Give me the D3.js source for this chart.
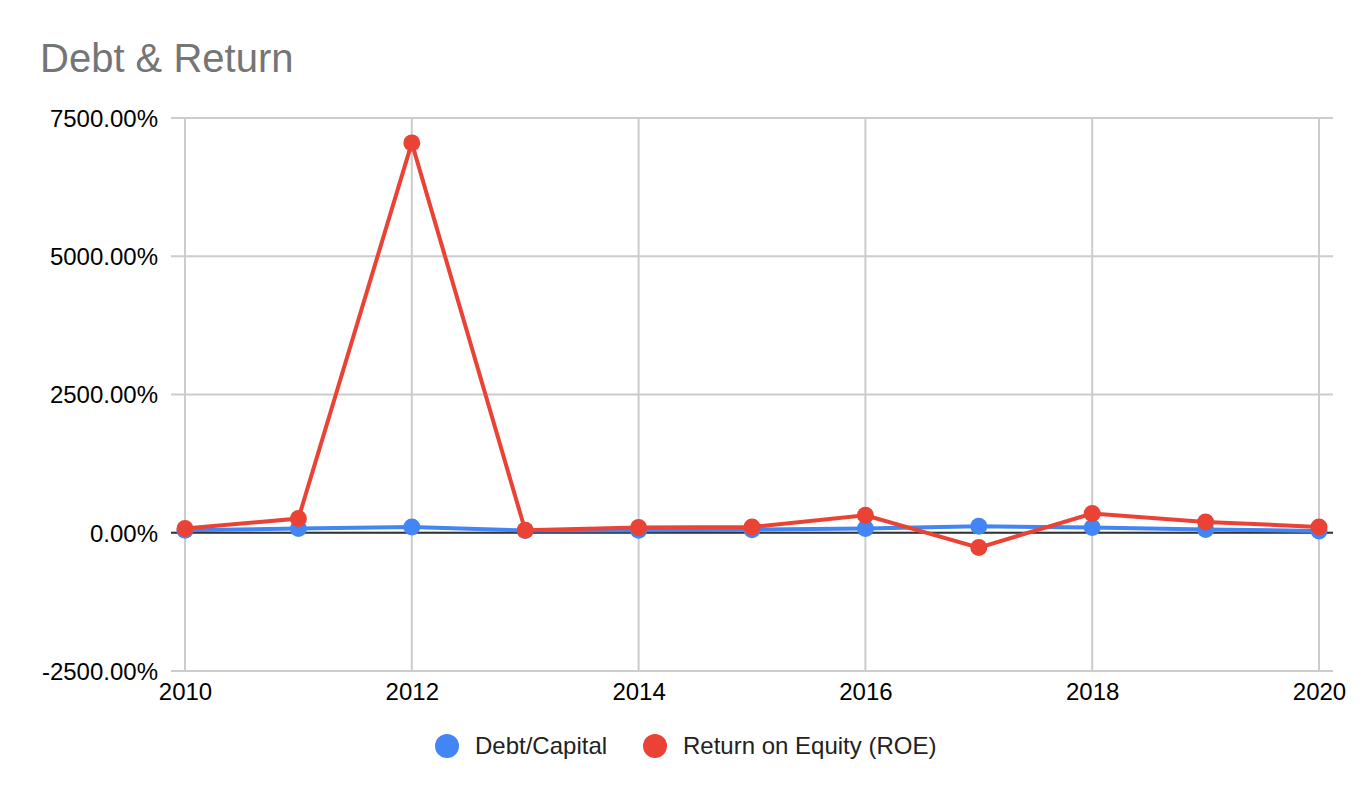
<!DOCTYPE html>
<html lang="en">
<head>
<meta charset="utf-8">
<title>Debt & Return</title>
<script src="https://cdn.jsdelivr.net/npm/d3@7"></script>
<style>
    body { margin: 0; background: #fff; }
    svg { font-family: "Liberation Sans", Arial, sans-serif; }
    .grid line { stroke: #cccccc; stroke-width: 2; }
    .axis text { font-size: 24px; fill: #000; font-family: "Liberation Sans", Arial, sans-serif; }
    .line { fill: none; stroke-width: 4; }
</style>
</head>
<body>
<div id="chart"></div>
<script>

// data (percent)
var years = [2010, 2011, 2012, 2013, 2014, 2015, 2016, 2017, 2018, 2019, 2020];
var debtCapital = [45, 76, 105, 40, 45, 55, 76, 118, 94, 58, 33];
var roe = [76, 257, 7050, 45, 94, 105, 317, -268, 347, 196, 105];
var yTicks = [-2500, 0, 2500, 5000, 7500];
var xTicks = [2010, 2012, 2014, 2016, 2018, 2020];
var seriesNames = ["Debt/Capital", "Return on Equity (ROE)"];
var seriesColors = ["#4285f4", "#ea4335"];

var width = 1372, height = 798;
var plotLeft = 185, plotRight = 1319, plotTop = 118, plotBottom = 671;

var svg = d3.select("#chart").append("svg")
    .attr("width", width)
    .attr("height", height);

var x = d3.scaleLinear().domain([2010, 2020]).range([plotLeft, plotRight]);
var y = d3.scaleLinear().domain([-2500, 7500]).range([plotBottom, plotTop]);

// title
svg.append("text")
    .attr("x", 40)
    .attr("y", 72)
    .style("font-size", "40px")
    .style("fill", "#757575")
    .text("Debt & Return");

// horizontal grid
svg.append("g").attr("class", "grid")
    .selectAll("line")
    .data(yTicks)
    .enter().append("line")
    .attr("x1", plotLeft - 14)
    .attr("x2", plotRight + 14)
    .attr("y1", function(d) { return y(d); })
    .attr("y2", function(d) { return y(d); });

// vertical grid
svg.append("g").attr("class", "grid")
    .selectAll("line")
    .data(xTicks)
    .enter().append("line")
    .attr("x1", function(d) { return x(d); })
    .attr("x2", function(d) { return x(d); })
    .attr("y1", plotTop)
    .attr("y2", plotBottom);

// zero line on top
svg.append("line")
    .attr("x1", plotLeft - 14).attr("x2", plotRight + 14)
    .attr("y1", y(0)).attr("y2", y(0))
    .style("stroke", "#333").style("stroke-width", 2);

// y axis labels (plain hyphen for negatives, like the original)
var yAxis = d3.axisLeft(y)
    .tickValues(yTicks)
    .tickSize(0)
    .tickPadding(0)
    .tickFormat(function(d) { return d.toFixed(2) + "%"; });

svg.append("g")
    .attr("class", "axis")
    .attr("transform", "translate(158,0)")
    .call(yAxis)
    .call(function(g) { g.select(".domain").remove(); })
    .selectAll("text").attr("dy", "0.35em");

// x axis labels
var xAxis = d3.axisBottom(x)
    .tickValues(xTicks)
    .tickSize(0)
    .tickPadding(0)
    .tickFormat(d3.format("d"));

svg.append("g")
    .attr("class", "axis")
    .attr("transform", "translate(0,683)")
    .call(xAxis)
    .call(function(g) { g.select(".domain").remove(); })
    .selectAll("text").attr("dy", "0.71em");

var series = [debtCapital, roe];

var line = d3.line()
    .x(function(d, i) { return x(years[i]); })
    .y(function(d) { return y(d); });

series.forEach(function(vals, s) {
    svg.append("path")
        .datum(vals)
        .attr("class", "line")
        .attr("stroke", seriesColors[s])
        .attr("d", line);

    svg.append("g").selectAll("circle")
        .data(vals)
        .enter().append("circle")
        .attr("cx", function(d, i) { return x(years[i]); })
        .attr("cy", function(d) { return y(d); })
        .attr("r", 8.5)
        .attr("fill", seriesColors[s]);
});

// legend
var legendX = [447, 655];
var legend = svg.append("g").selectAll("g")
    .data(seriesNames)
    .enter().append("g")
    .attr("transform", function(d, i) { return "translate(" + legendX[i] + ",746)"; });

legend.append("circle")
    .attr("r", 12)
    .attr("fill", function(d, i) { return seriesColors[i]; });

legend.append("text")
    .attr("x", 28)
    .attr("dy", "0.35em")
    .style("font-size", "24px")
    .style("fill", "#222")
    .text(function(d) { return d; });

</script>
</body>
</html>
